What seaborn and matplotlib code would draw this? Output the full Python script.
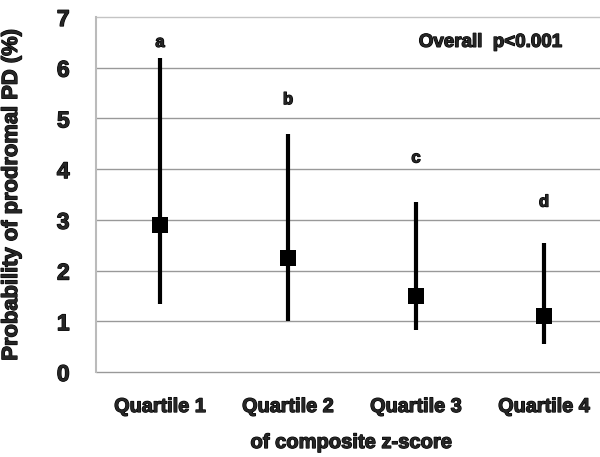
import numpy as np
import matplotlib
matplotlib.use("Agg")
import matplotlib.pyplot as plt
import matplotlib.patheffects as pe
import seaborn as sns

# Estimated probability of prodromal PD by quartile, with 95% CI
quartiles = ["Quartile 1", "Quartile 2", "Quartile 3", "Quartile 4"]
prob = [2.9, 2.25, 1.5, 1.1]
ci_low = [1.35, 1.0, 0.82, 0.56]
ci_high = [6.2, 4.7, 3.35, 2.55]
letters = ["a", "b", "c", "d"]
letter_y = [6.5, 5.37, 4.22, 3.35]

sns.set_theme(style="whitegrid")
plt.rcParams["font.family"] = ["Liberation Sans", "DejaVu Sans"]
plt.rcParams["font.weight"] = "bold"

heavy = [pe.withStroke(linewidth=0.9, foreground="black")]

fig = plt.figure(figsize=(6, 4.57), dpi=100)
ax = fig.add_axes([96 / 600, 1 - 372 / 457, 512 / 600, 355 / 457])

xpos = np.arange(len(quartiles))
ax.vlines(xpos, ci_low, ci_high, color="black", linewidth=3, zorder=3)
sns.scatterplot(x=xpos, y=prob, marker="s", s=130, color="black",
                edgecolor="black", linewidth=0, ax=ax, zorder=4)

for x, lab, ly in zip(xpos, letters, letter_y):
    ax.text(x, ly, lab, ha="center", va="center", fontsize=12,
            fontweight="bold", path_effects=heavy)

ax.text(2.58, 6.5, "Overall  p<0.001", ha="center", va="center",
        fontsize=13.5, fontweight="bold", path_effects=heavy)

ax.set_xlim(-0.5, 3.5)
ax.set_ylim(0, 7)
ax.set_yticks(range(0, 8))
ax.set_xticks(xpos)
ax.set_xticklabels(quartiles, fontsize=14.3, fontweight="bold")
ax.tick_params(axis="y", labelsize=16.5, pad=13)
ax.tick_params(axis="x", pad=12)
for tick in ax.xaxis.get_major_ticks() + ax.yaxis.get_major_ticks():
    tick.label1.set_fontweight("bold")
    tick.label1.set_path_effects(heavy)

ax.grid(axis="x", visible=False)
ax.grid(axis="y", color="#999999", linewidth=1)
for g in ax.yaxis.get_gridlines():
    g.set_clip_on(False)
ax.yaxis.get_gridlines()[-1].set_color("#c4c4c4")
ax.set_axisbelow(True)
for side in ["top", "right", "bottom"]:
    ax.spines[side].set_visible(False)
ax.spines["left"].set_color("#bbbbbb")
ax.spines["left"].set_linewidth(1.5)

ax.set_ylabel("Probability of prodromal PD (%)", fontsize=15.8,
              fontweight="bold", path_effects=heavy)
ax.yaxis.set_label_coords(-(96 - 22) / 512, 0.5)
ax.set_xlabel("of composite z-score", fontsize=14.5, fontweight="bold",
              path_effects=heavy)
ax.xaxis.set_label_coords((351 - 96) / 512, -(433 - 372) / 355)

fig.savefig("out.png", dpi=100)
